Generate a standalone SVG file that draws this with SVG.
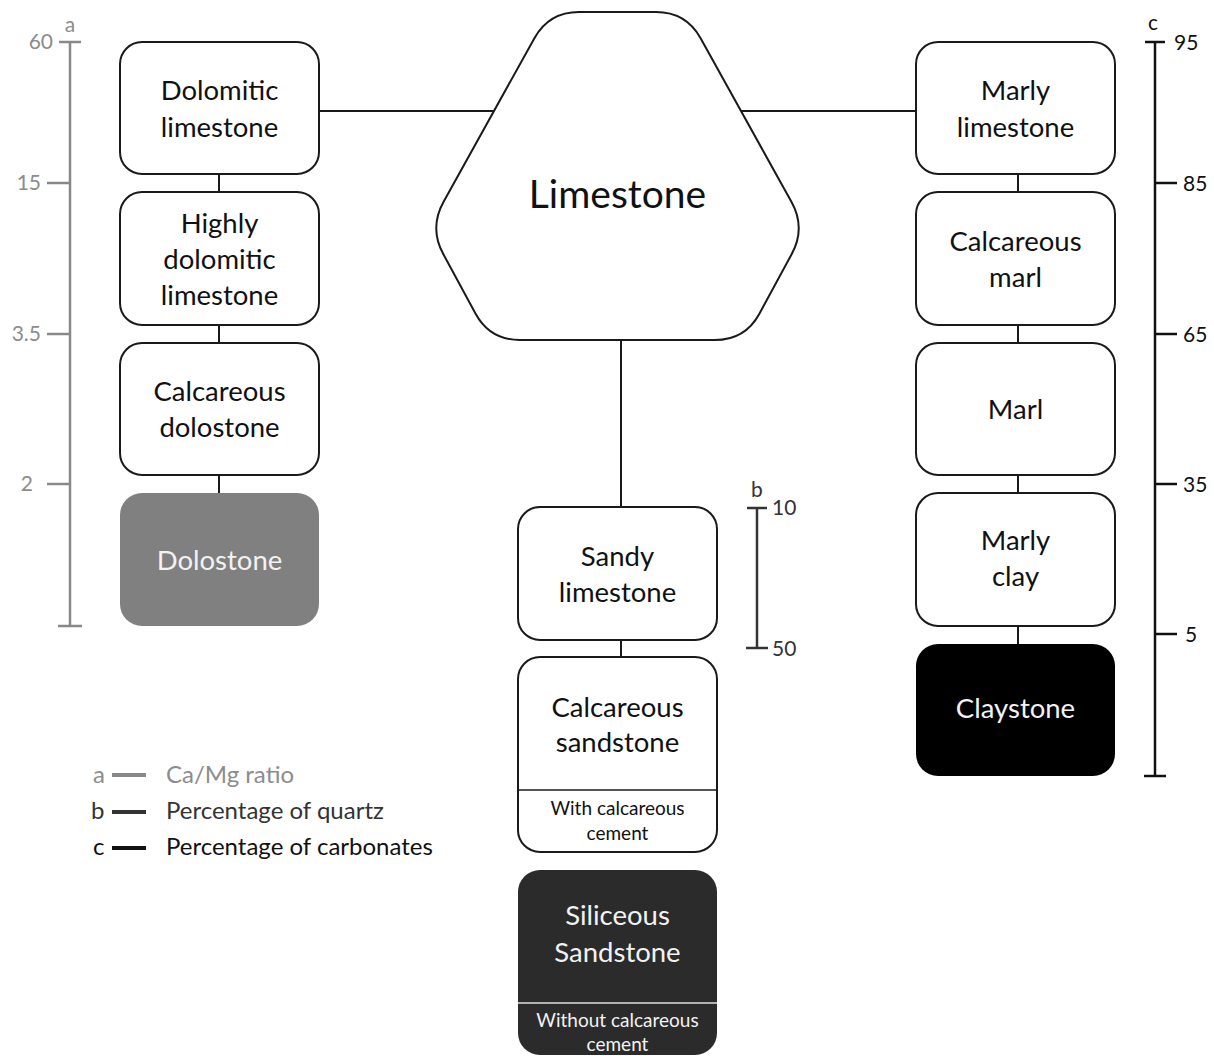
<svg xmlns="http://www.w3.org/2000/svg" width="1214" height="1056" viewBox="0 0 1214 1056">
<style>
text{font-family:Lato,"Open Sans","Liberation Sans",sans-serif;text-anchor:middle;fill:#111}
.box{fill:#fff;stroke:#1a1a1a;stroke-width:2}
.t{font-size:27.5px}
.s{font-size:19px}
.w{fill:#f2f2f2}
.con line{stroke:#1a1a1a;stroke-width:2}
.sa line{stroke:#888;stroke-width:2.5}
.sa text{fill:#8c8c8c;font-size:21px}
.sb line{stroke:#333;stroke-width:2.5}
.sb text{fill:#333;font-size:21px}
.sc line{stroke:#111;stroke-width:2.5}
.sc text{fill:#111;font-size:21px}
.end{text-anchor:end}
.st{text-anchor:start}
.leg text{text-anchor:start;font-size:24px}
</style>
<rect width="1214" height="1056" fill="#fff"/>
<g id="connectors" class="con">
<line x1="319" y1="111" x2="495" y2="111"/>
<line x1="740" y1="111" x2="916" y2="111"/>
<line x1="219" y1="174" x2="219" y2="192"/>
<line x1="219" y1="325" x2="219" y2="343"/>
<line x1="219" y1="475" x2="219" y2="493"/>
<line x1="1018" y1="174" x2="1018" y2="192"/>
<line x1="1018" y1="325" x2="1018" y2="343"/>
<line x1="1018" y1="475" x2="1018" y2="493"/>
<line x1="1018" y1="626" x2="1018" y2="644"/>
<line x1="621" y1="340" x2="621" y2="507"/>
<line x1="621" y1="640" x2="621" y2="657"/>
</g>
<g id="limestone">
<path class="box" d="M579,12 L656,12 Q686,12 700.6,38.2 L791.4,201.8 Q806,228 791.6,254.3 L759.4,313.7 Q745,340 715,340 L520,340 Q490,340 475.6,313.7 L443.4,254.3 Q429,228 443.6,201.8 L534.4,38.2 Q549,12 579,12 Z"/>
<text x="617.5" y="208" style="font-size:39px">Limestone</text>
</g>
<g id="dolomitic-limestone">
<rect class="box" x="120" y="42" width="199" height="132" rx="22"/>
<text class="t" x="219.5" y="100">Dolomitic</text>
<text class="t" x="219.5" y="137">limestone</text>
</g>
<g id="highly-dolomitic-limestone">
<rect class="box" x="120" y="192" width="199" height="133" rx="22"/>
<text class="t" x="219.5" y="233">Highly</text>
<text class="t" x="219.5" y="269">dolomitic</text>
<text class="t" x="219.5" y="305">limestone</text>
</g>
<g id="calcareous-dolostone">
<rect class="box" x="120" y="343" width="199" height="132" rx="22"/>
<text class="t" x="219.5" y="401">Calcareous</text>
<text class="t" x="219.5" y="437">dolostone</text>
</g>
<g id="dolostone">
<rect x="120" y="493" width="199" height="133" rx="22" fill="#808080"/>
<text class="t w" x="219.5" y="570">Dolostone</text>
</g>
<g id="marly-limestone">
<rect class="box" x="916" y="42" width="199" height="132" rx="22"/>
<text class="t" x="1015.5" y="100">Marly</text>
<text class="t" x="1015.5" y="137">limestone</text>
</g>
<g id="calcareous-marl">
<rect class="box" x="916" y="192" width="199" height="133" rx="22"/>
<text class="t" x="1015.5" y="251">Calcareous</text>
<text class="t" x="1015.5" y="287">marl</text>
</g>
<g id="marl">
<rect class="box" x="916" y="343" width="199" height="132" rx="22"/>
<text class="t" x="1015.5" y="419">Marl</text>
</g>
<g id="marly-clay">
<rect class="box" x="916" y="493" width="199" height="133" rx="22"/>
<text class="t" x="1015.5" y="550">Marly</text>
<text class="t" x="1015.5" y="586">clay</text>
</g>
<g id="claystone">
<rect x="916" y="644" width="199" height="132" rx="22" fill="#000"/>
<text class="t w" x="1015.5" y="718">Claystone</text>
</g>
<g id="sandy-limestone">
<rect class="box" x="518" y="507" width="199" height="133" rx="22"/>
<text class="t" x="617.5" y="566">Sandy</text>
<text class="t" x="617.5" y="602">limestone</text>
</g>
<g id="calcareous-sandstone">
<rect class="box" x="518" y="657" width="199" height="195" rx="22"/>
<line x1="518" y1="790" x2="717" y2="790" stroke="#1a1a1a" stroke-width="1.5"/>
<text class="t" x="617.5" y="717">Calcareous</text>
<text class="t" x="617.5" y="752">sandstone</text>
<text class="s" x="617.5" y="815">With calcareous</text>
<text class="s" x="617.5" y="840">cement</text>
</g>
<g id="siliceous-sandstone">
<rect x="518" y="870" width="199" height="185" rx="22" fill="#2b2b2b"/>
<line x1="518" y1="1003" x2="717" y2="1003" stroke="#e0e0e0" stroke-width="1.5"/>
<text class="t w" x="617.5" y="925">Siliceous</text>
<text class="t w" x="617.5" y="962">Sandstone</text>
<text class="s w" x="617.5" y="1027">Without calcareous</text>
<text class="s w" x="617.5" y="1051">cement</text>
</g>
<g id="scale-a" class="sa">
<line x1="70" y1="42" x2="70" y2="626"/>
<line x1="59" y1="42" x2="81" y2="42"/>
<line x1="47" y1="183" x2="70" y2="183"/>
<line x1="47" y1="334" x2="70" y2="334"/>
<line x1="47" y1="484" x2="70" y2="484"/>
<line x1="58" y1="626" x2="82" y2="626"/>
<text x="70" y="32">a</text>
<text class="end" x="53" y="49">60</text>
<text class="end" x="41" y="190">15</text>
<text class="end" x="41" y="341">3.5</text>
<text class="end" x="33" y="491">2</text>
</g>
<g id="scale-b" class="sb">
<line x1="757" y1="508" x2="757" y2="648"/>
<line x1="747" y1="508" x2="767" y2="508"/>
<line x1="746" y1="648" x2="768" y2="648"/>
<text x="757" y="497">b</text>
<text class="st" x="772" y="515">10</text>
<text class="st" x="772" y="656">50</text>
</g>
<g id="scale-c" class="sc">
<line x1="1155" y1="42" x2="1155" y2="776"/>
<line x1="1145" y1="42" x2="1165" y2="42"/>
<line x1="1155" y1="183" x2="1177" y2="183"/>
<line x1="1155" y1="334" x2="1177" y2="334"/>
<line x1="1155" y1="484" x2="1177" y2="484"/>
<line x1="1155" y1="634" x2="1177" y2="634"/>
<line x1="1144" y1="776" x2="1166" y2="776"/>
<text x="1153" y="30">c</text>
<text class="st" x="1174" y="50">95</text>
<text class="st" x="1183" y="191">85</text>
<text class="st" x="1183" y="342">65</text>
<text class="st" x="1183" y="492">35</text>
<text class="st" x="1185" y="642">5</text>
</g>
<g id="legend" class="leg">
<text x="93" y="783" style="fill:#8c8c8c">a</text>
<line x1="112" y1="775" x2="146" y2="775" stroke="#888" stroke-width="4"/>
<text x="166" y="783" style="fill:#8c8c8c">Ca/Mg ratio</text>
<text x="91" y="819" style="fill:#333">b</text>
<line x1="112" y1="812" x2="146" y2="812" stroke="#333" stroke-width="4"/>
<text x="166" y="819" style="fill:#333">Percentage of quartz</text>
<text x="93" y="855" style="fill:#111">c</text>
<line x1="112" y1="848" x2="146" y2="848" stroke="#111" stroke-width="4"/>
<text x="166" y="855" style="fill:#111">Percentage of carbonates</text>
</g>
</svg>
